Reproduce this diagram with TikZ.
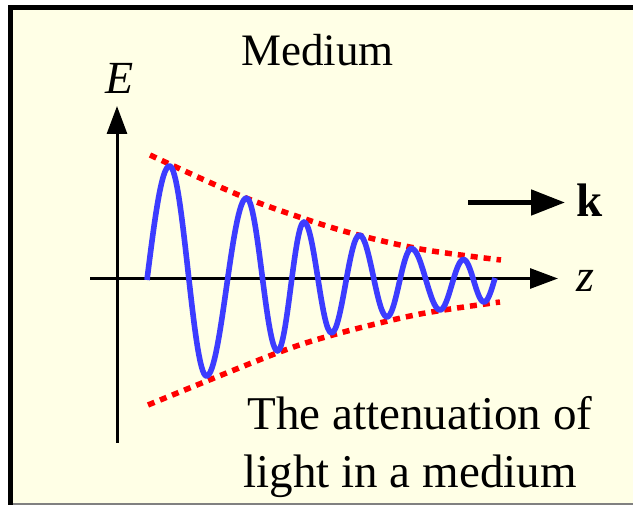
\documentclass[tikz,border=0pt]{standalone}
\usepackage{fontspec}
\setmainfont{Liberation Serif}
\usetikzlibrary{arrows.meta}
\definecolor{bgyellow}{RGB}{255,255,230}
\definecolor{waveblue}{RGB}{60,60,255}
\definecolor{envred}{RGB}{255,0,0}
\begin{document}
\begin{tikzpicture}[x=1pt,y=-1pt,
  axis/.style={line width=3pt, -{Triangle[length=28pt,width=20pt]}},
  karrow/.style={line width=5pt, -{Triangle[length=34pt,width=25pt]}},
  wave/.style={draw=waveblue, line width=5.6pt, line join=round},
  envelope/.style={draw=envred, line width=5.5pt, dash pattern=on 7pt off 6pt},
  lbl/.style={inner sep=0pt, anchor=base west, text=black}]
\useasboundingbox (0,0) rectangle (633,505);
\fill[white] (0,0) rectangle (633,505);
\fill[bgyellow] (8,5) rectangle (633,505);
\fill[black] (8,5) rectangle (633,10);
\fill[black] (8,5) rectangle (13,505);
\draw[gray, line width=2pt] (13,504) -- (633,504);
% axes
\coordinate (Ebot) at (117,443);
\coordinate (Etop) at (117,106);
\coordinate (zl) at (90,278.5);
\coordinate (zr) at (558,278.5);
\draw[axis] (Ebot) -- (Etop);
\draw[axis] (zl) -- (zr);
% envelopes
\draw[envelope] plot[smooth] coordinates {(150,155) (246,198) (340,230) (420,249) (501,260)};
\draw[envelope] plot[smooth] coordinates {(148,405) (277,353) (340,333) (420,314) (500,302)};
% wave
\draw[wave] (147,280) .. controls (154.3,221.6) and (161.4,166) .. (169.5,166)
 .. controls (183.0,166) and (193.0,376) .. (206.5,376)
 .. controls (221.1,376) and (231.9,198) .. (246.5,198)
 .. controls (257.8,198) and (266.2,351) .. (277.5,351)
 .. controls (287.2,351) and (294.4,222) .. (304,222)
 .. controls (314.0,222) and (321.5,333) .. (331.5,333)
 .. controls (341.7,333) and (349.3,235) .. (359.5,235)
 .. controls (369.5,235) and (377.0,317) .. (387,317)
 .. controls (395.9,317) and (402.6,248.5) .. (411.5,248.5)
 .. controls (421.9,248.5) and (429.6,310) .. (440,310)
 .. controls (448.6,310) and (455.0,259.5) .. (463.5,259.5)
 .. controls (471.0,259.5) and (476.5,302) .. (484,302)
 .. controls (488.0,302) and (491.4,290.3) .. (495,278);
% k arrow
\coordinate (ks) at (468,202.5);
\coordinate (ke) at (565,202.5);
\draw[karrow] (ks) -- (ke);
% labels
\node[lbl, font=\fontsize{47}{56}\selectfont\bfseries] (k) at (576,216.7) {k};
\node[lbl, font=\fontsize{45}{54}\selectfont] (medium) at (241,65.7) {Medium};
\node[lbl, font=\fontsize{46}{55}\selectfont\itshape] (E) at (105,93.3) {E};
\node[lbl, font=\fontsize{46}{55}\selectfont\itshape] (z) at (576,291.7) {z};
\node[lbl, font=\fontsize{47}{57}\selectfont] (t1) at (247.5,430) {The attenuation of};
\node[lbl, font=\fontsize{47}{57}\selectfont] (t2) at (243.5,487.3) {light in a medium};
\end{tikzpicture}
\end{document}
